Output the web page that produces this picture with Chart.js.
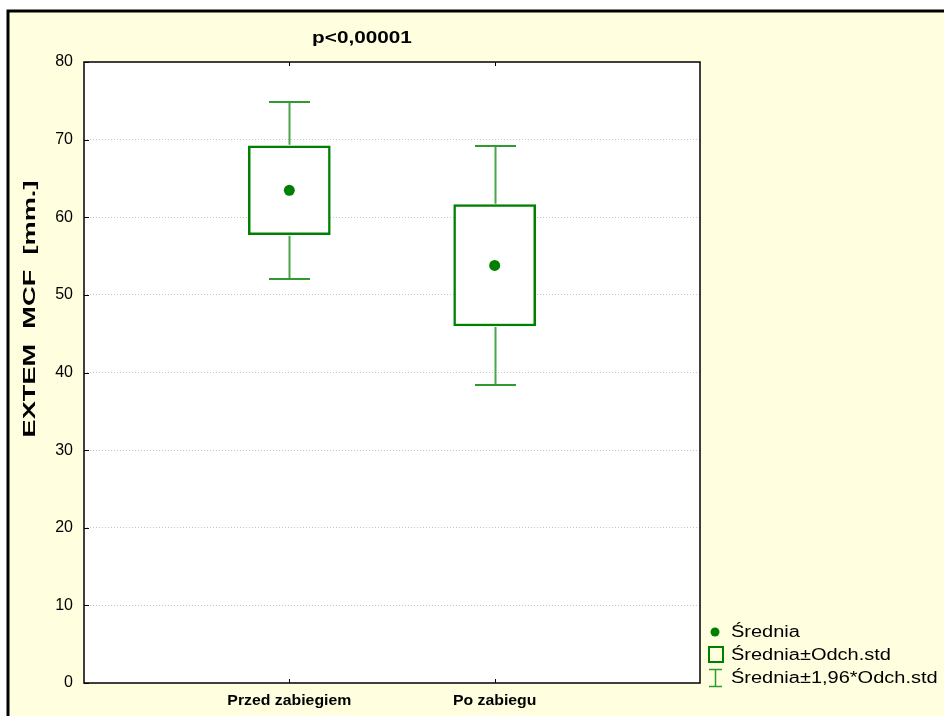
<!DOCTYPE html>
<html>
<head>
<meta charset="utf-8">
<script src="https://cdn.jsdelivr.net/npm/chart.js@4/dist/chart.umd.min.js"></script>
<style>
html,body{margin:0;padding:0;background:#fff;}
#wrap{width:944px;height:716px;position:relative;}
</style>
</head>
<body>
<div id="wrap"><canvas id="c" width="944" height="716"></canvas></div>
<script>
// ---- data ----
const categories = ['Przed zabiegiem', 'Po zabiegu'];
const means = [63.47, 53.8];
const sdLow = [57.75, 45.99];
const sdHigh = [69.2, 61.62];
const ciLow = [52.05, 38.39];
const ciHigh = [74.85, 69.18];
const yTicks = [0, 10, 20, 30, 40, 50, 60, 70, 80];
const titleText = 'p<0,00001';
const yTitle = 'EXTEM  MCF  [mm.]';
const legendLabels = ['Średnia', 'Średnia±Odch.std', 'Średnia±1,96*Odch.std'];

const labels = ['', ...categories, ''];
const pad = arr => [null, ...arr, null];

const GREEN = '#008000';
const WHISK = '#4aa64a';
const FONT = 'Arial, "Liberation Sans", sans-serif';

function stretchedText(ctx, text, x, y, sx, align) {
  ctx.save();
  ctx.translate(x, y);
  ctx.scale(sx, 1);
  ctx.textAlign = align;
  ctx.fillText(text, 0, 0);
  ctx.restore();
}

const decor = {
  id: 'decor',
  beforeDraw(chart) {
    const ctx = chart.ctx, a = chart.chartArea;
    ctx.save();
    ctx.fillStyle = '#ffffff';
    ctx.fillRect(0, 0, chart.width, chart.height);
    ctx.fillStyle = '#ffffe0';
    ctx.fillRect(8, 11, chart.width, chart.height);
    ctx.strokeStyle = '#000';
    ctx.lineWidth = 3;
    ctx.beginPath();
    ctx.moveTo(8, chart.height + 5);
    ctx.lineTo(8, 11);
    ctx.lineTo(chart.width + 5, 11);
    ctx.stroke();
    ctx.fillStyle = '#ffffff';
    ctx.fillRect(a.left, a.top, a.right - a.left, a.bottom - a.top);
    ctx.restore();
  },
  afterDatasetsDraw(chart) {
    const ctx = chart.ctx, a = chart.chartArea;
    const xs = chart.scales.x, ys = chart.scales.y;
    ctx.save();
    // whiskers
    for (let i = 0; i < categories.length; i++) {
      const x = Math.round(xs.getPixelForValue(i + 1)) + 0.5;
      const yHi = ys.getPixelForValue(ciHigh[i]);
      const yBoxHi = ys.getPixelForValue(sdHigh[i]);
      const yLo = ys.getPixelForValue(ciLow[i]);
      const yBoxLo = ys.getPixelForValue(sdLow[i]);
      ctx.strokeStyle = WHISK;
      ctx.lineWidth = 2;
      ctx.beginPath();
      ctx.moveTo(x, yHi); ctx.lineTo(x, yBoxHi - 1);
      ctx.moveTo(x, yLo); ctx.lineTo(x, yBoxLo + 1);
      ctx.stroke();
      ctx.strokeStyle = '#2f9a2f';
      ctx.beginPath();
      ctx.moveTo(x - 20.5, yHi); ctx.lineTo(x + 20.5, yHi);
      ctx.moveTo(x - 20.5, yLo); ctx.lineTo(x + 20.5, yLo);
      ctx.stroke();
    }
    // plot border
    ctx.strokeStyle = '#000';
    ctx.lineWidth = 1.5;
    ctx.strokeRect(a.left, a.top, a.right - a.left, a.bottom - a.top);
    // tick marks (inside)
    ctx.lineWidth = 1;
    ctx.beginPath();
    for (let i = 0; i < categories.length; i++) {
      const x = Math.round(xs.getPixelForValue(i + 1)) + 0.5;
      ctx.moveTo(x, a.bottom); ctx.lineTo(x, a.bottom - 4);
      ctx.moveTo(x, a.top); ctx.lineTo(x, a.top + 4);
    }
    yTicks.forEach(v => {
      const y = Math.round(ys.getPixelForValue(v)) + 0.5;
      ctx.moveTo(a.left, y); ctx.lineTo(a.left + 5, y);
    });
    ctx.stroke();
    ctx.restore();
  },
  afterDraw(chart) {
    const ctx = chart.ctx, a = chart.chartArea;
    const xs = chart.scales.x;
    ctx.save();
    ctx.fillStyle = '#000';
    ctx.textBaseline = 'middle';
    // title
    ctx.font = 'bold 17px ' + FONT;
    stretchedText(ctx, titleText, 362, 38, 1.22, 'center');
    // category labels
    ctx.font = 'bold 14px ' + FONT;
    categories.forEach((c, i) => {
      stretchedText(ctx, c, xs.getPixelForValue(i + 1), 701, 1.13, 'center');
    });
    // y title
    ctx.save();
    ctx.translate(30, 309);
    ctx.rotate(-Math.PI / 2);
    ctx.font = 'bold 17px ' + FONT;
    stretchedText(ctx, yTitle, 0, 0, 1.6, 'center');
    ctx.restore();
    // legend
    ctx.font = '16px ' + FONT;
    const lx = 715, tx = 731;
    const rows = [632, 655, 678];
    ctx.fillStyle = GREEN;
    ctx.beginPath(); ctx.arc(lx, rows[0], 4.5, 0, Math.PI * 2); ctx.fill();
    ctx.strokeStyle = GREEN; ctx.lineWidth = 2;
    ctx.strokeRect(709, 647, 14, 15);
    ctx.strokeStyle = '#2f9a2f'; ctx.lineWidth = 1.5;
    ctx.beginPath();
    ctx.moveTo(709, 669.5); ctx.lineTo(722, 669.5);
    ctx.moveTo(709, 686.5); ctx.lineTo(722, 686.5);
    ctx.moveTo(715.5, 669.5); ctx.lineTo(715.5, 686.5);
    ctx.stroke();
    ctx.fillStyle = '#000';
    legendLabels.forEach((t, i) => stretchedText(ctx, t, tx, rows[i] + 1, 1.25, 'left'));
    ctx.restore();
  }
};

new Chart(document.getElementById('c'), {
  data: {
    labels: labels,
    datasets: [
      {
        type: 'bar',
        label: legendLabels[1],
        data: pad(sdLow.map((v, i) => [v, sdHigh[i]])),
        backgroundColor: '#ffffff',
        borderColor: GREEN,
        borderWidth: 2.5,
        borderSkipped: false,
        barThickness: 82,
        grouped: false,
        order: 2
      },
      {
        type: 'line',
        label: legendLabels[0],
        data: pad(means),
        showLine: false,
        pointRadius: 5.5,
        pointHoverRadius: 5.5,
        pointBackgroundColor: GREEN,
        pointBorderColor: GREEN,
        pointBorderWidth: 0,
        order: 1
      }
    ]
  },
  options: {
    responsive: false,
    animation: false,
    events: [],
    layout: { padding: { left: 0, top: 62, right: 244, bottom: 0 } },
    plugins: { legend: { display: false }, title: { display: false }, tooltip: { enabled: false } },
    scales: {
      x: {
        type: 'category',
        offset: false,
        grid: { display: false, drawTicks: false },
        border: { display: false },
        ticks: { display: false },
        afterFit(s) { s.height = 33; }
      },
      y: {
        type: 'linear',
        min: 0,
        max: 80,
        afterBuildTicks(s) { s.ticks = yTicks.map(v => ({ value: v })); },
        grid: {
          drawTicks: false,
          color: c => (c.tick && (c.tick.value === 0 || c.tick.value === 80)) ? 'rgba(0,0,0,0)' : '#c4c4c4',
          lineWidth: 1
        },
        border: { display: false, dash: [1, 2] },
        ticks: {
          padding: 11,
          color: '#000',
          font: { family: FONT, size: 16 }
        },
        afterFit(s) { s.width = 84; }
      }
    }
  },
  plugins: [decor]
});
</script>
</body>
</html>
